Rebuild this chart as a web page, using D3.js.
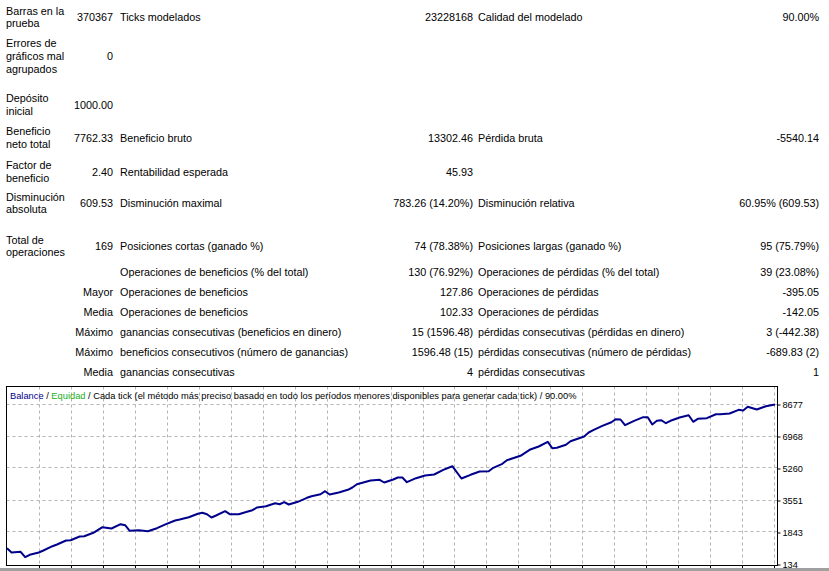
<!DOCTYPE html>
<html>
<head>
<meta charset="utf-8">
<script src="https://cdn.jsdelivr.net/npm/d3@7"></script>
<style>
html,body{margin:0;padding:0;background:#fff;}
svg{display:block;}
text{font-family:"Liberation Sans",Arial,sans-serif;fill:#000;}
</style>
</head>
<body>
<svg id="c" width="829" height="571"></svg>
<script>
// ---------- report table data ----------
const rowLabels = [
  ["Barras en la","prueba"],
  ["Errores de","gráficos mal","agrupados"],
  ["Depósito","inicial"],
  ["Beneficio","neto total"],
  ["Factor de","beneficio"],
  ["Disminución","absoluta"],
  ["Total de","operaciones"],
  [""],
  ["Mayor"],
  ["Media"],
  ["Máximo"],
  ["Máximo"],
  ["Media"]
];
const col2Values = ["370367","0","1000.00","7762.33","2.40","609.53","169","","","","","",""];
const col3Labels = ["Ticks modelados","","","Beneficio bruto","Rentabilidad esperada","Disminución maximal",
  "Posiciones cortas (ganado %)","Operaciones de beneficios (% del total)","Operaciones de beneficios",
  "Operaciones de beneficios","ganancias consecutivas (beneficios en dinero)",
  "beneficios consecutivos (número de ganancias)","ganancias consecutivas"];
const col4Values = ["23228168","","","13302.46","45.93","783.26 (14.20%)","74 (78.38%)","130 (76.92%)",
  "127.86","102.33","15 (1596.48)","1596.48 (15)","4"];
const col5Labels = ["Calidad del modelado","","","Pérdida bruta","","Disminución relativa",
  "Posiciones largas (ganado %)","Operaciones de pérdidas (% del total)","Operaciones de pérdidas",
  "Operaciones de pérdidas","pérdidas consecutivas (pérdidas en dinero)",
  "pérdidas consecutivas (número de pérdidas)","pérdidas consecutivas"];
const col6Values = ["90.00%","","","-5540.14","","60.95% (609.53)","95 (75.79%)","39 (23.08%)",
  "-395.05","-142.05","3 (-442.38)","-689.83 (2)","1"];
const rightAlignedLabelRows = [8,9,10,11,12];

// ---------- balance curve data ----------
const trades  = [0,1,3,4,5,7,8,10,11,13,14,16,17,19,21,23,25,26,27,29,31,33,35,37,38,40,42,43,44,45,46,48,49,51,53,54,55,57,59,60,61,62,64,66,67,69,70,71,73,75,76,77,80,82,83,85,86,87,88,90,92,94,96,98,100,102,104,106,107,109,110,113,115,117,119,120,121,123,124,127,128,129,131,133,134,135,136,138,140,141,142,143,144,145,146,148,150,151,152,154,156,157,159,161,162,163,165,167,169];
const balance = [1000,775,812,524,652,775,881,1111,1202,1415,1431,1629,1645,1826,2125,2056,2286,2232,1933,1965,1912,2072,2286,2483,2537,2659,2841,2894,2820,2643,2750,2980,2820,2820,2964,3033,3177,3247,3407,3353,3460,3337,3482,3695,3781,3887,4048,3871,3978,4122,4245,4421,4619,4656,4512,4672,4779,4779,4528,4742,4886,4939,5190,5382,4726,4923,5099,5115,5297,5510,5703,5938,6258,6434,6685,6343,6364,6525,6717,6968,7182,7304,7539,7731,7892,7876,7571,7806,8000,8000,7609,7806,7838,7678,7806,7982,8105,7753,7913,7945,8158,8158,8196,8393,8356,8554,8410,8586,8677];
const yTickValues = [134,1843,3551,5260,6968,8677];
const totalTrades = 169;
const headerParts = [
  {t:"Balance", c:"#00008b"},
  {t:" / ", c:"#000"},
  {t:"Equidad", c:"#20b020"},
  {t:" / Cada tick (el método más preciso basado en todo los períodos menores disponibles para generar cada tick)  / 90.00%", c:"#000"}
];

// ---------- layout ----------
const svg = d3.select("#c");
const rowBase = [21,60,108.5,141.5,175.5,207,250,275.5,296,316,336,356,376];
const lineH = 12.7;
const fs = 10.8;
const X1 = 6, X2r = 113, X3 = 120, X4r = 473, X5 = 478, X6r = 819;

const table = svg.append("g").attr("font-size", fs);
rowLabels.forEach((lines, i) => {
  const n = lines.length;
  const right = rightAlignedLabelRows.includes(i);
  lines.forEach((ln, j) => {
    table.append("text")
      .attr("x", right ? X2r : X1)
      .attr("y", rowBase[i] + (j - (n - 1) / 2) * lineH)
      .attr("text-anchor", right ? "end" : "start")
      .text(ln);
  });
});
function col(arr, x, anchor) {
  table.selectAll(null).data(arr).enter().append("text")
    .attr("x", x).attr("y", (d, i) => rowBase[i])
    .attr("text-anchor", anchor).text(d => d);
}
col(col2Values, X2r, "end");
col(col3Labels, X3, "start");
col(col4Values, X4r, "end");
col(col5Labels, X5, "start");
col(col6Values, X6r, "end");

// ---------- chart ----------
const plot = {left: 6.5, right: 777.5, top: 386.5, bottom: 565.5};
const x = d3.scaleLinear().domain([0, totalTrades]).range([7, 775]);
const y = d3.scaleLinear().domain([yTickValues[0], yTickValues[yTickValues.length - 1]]).range([564.5, 404.5]);

const gridColor = "#b4b4b4";
// vertical grid (every ~32 px, as in the terminal)
const gridStartPx = 39, gridStepPx = 31.96, gridCount = 24;
const xGrid = d3.range(gridCount).map(k => x.invert(gridStartPx + k * gridStepPx));

const g = svg.append("g");
g.selectAll("line.vgrid").data(xGrid).join("line").attr("class", "vgrid")
  .attr("x1", d => Math.round(x(d)) + 0.5).attr("x2", d => Math.round(x(d)) + 0.5)
  .attr("y1", plot.top).attr("y2", plot.bottom)
  .attr("stroke", gridColor).attr("stroke-width", 1).attr("stroke-dasharray", "3 3");
g.selectAll("line.hgrid").data(yTickValues.slice(1)).join("line").attr("class", "hgrid")
  .attr("x1", plot.left).attr("x2", plot.right)
  .attr("y1", d => Math.round(y(d)) - 0.5).attr("y2", d => Math.round(y(d)) - 0.5)
  .attr("stroke", gridColor).attr("stroke-width", 1).attr("stroke-dasharray", "3 3");

// bottom tick marks
g.selectAll("line.bt").data(xGrid).join("line").attr("class", "bt")
  .attr("x1", d => Math.round(x(d)) + 0.5).attr("x2", d => Math.round(x(d)) + 0.5)
  .attr("y1", plot.bottom).attr("y2", plot.bottom + 3)
  .attr("stroke", "#000");

// balance line
const line = d3.line().x((d, i) => x(trades[i])).y(d => y(d));
g.append("path").datum(balance)
  .attr("d", line).attr("fill", "none")
  .attr("stroke", "#00008b").attr("stroke-width", 2).attr("stroke-linejoin", "round");

// frame
g.append("rect").attr("x", plot.left).attr("y", plot.top)
  .attr("width", plot.right - plot.left).attr("height", plot.bottom - plot.top)
  .attr("fill", "none").attr("stroke", "#000");

// right axis
const yAxis = d3.axisRight(y).tickValues(yTickValues).tickSize(3).tickPadding(2).tickFormat(d3.format("d"));
const ax = svg.append("g").attr("transform", `translate(${plot.right},0)`).call(yAxis);
ax.select(".domain").remove();
ax.selectAll("text").attr("font-size", 9.2).attr("font-family", "Liberation Sans, Arial, sans-serif").attr("fill", "#000");
ax.selectAll("line").attr("stroke", "#000");

// header text inside chart
const ht = svg.append("text").attr("x", 10).attr("y", 398.5).attr("font-size", 9.3);
headerParts.forEach(p => ht.append("tspan").attr("fill", p.c).style("fill", p.c).text(p.t));

// bottom gray separator
svg.append("rect").attr("x", 0).attr("y", 568).attr("width", 829).attr("height", 3).attr("fill", "#a0a0a0");
</script>
</body>
</html>
